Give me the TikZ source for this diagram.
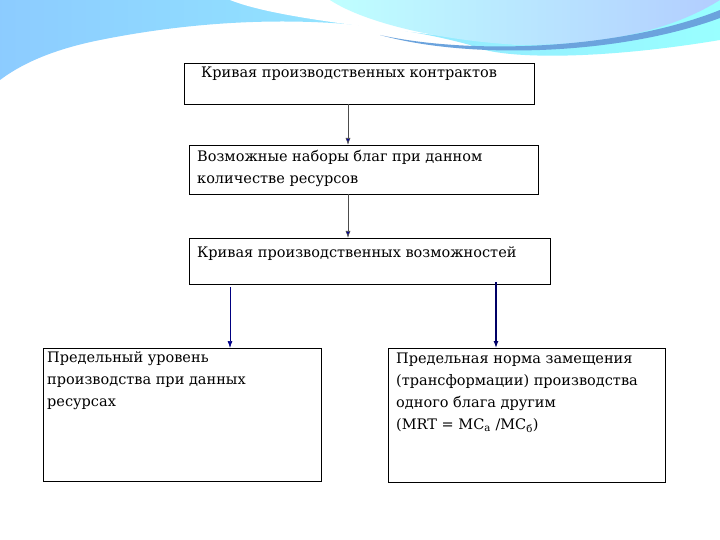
\documentclass[tikz,border=0pt]{standalone}
\usepackage{fontspec}
\setmainfont{DejaVu Serif}
\usetikzlibrary{arrows.meta}
\begin{document}
\begin{tikzpicture}[x=1pt,y=-1pt,
  box/.style={draw=black,line width=0.7pt,fill=white},
  txt/.style={anchor=north west,align=left,font=\fontsize{14.5}{22}\selectfont,inner sep=0pt},
  arr/.style={draw=black!70,line width=0.7pt,-{Latex[length=7pt,width=5pt,fill=blue!60!black]}}]
\useasboundingbox (0,0) rectangle (720,540);
\fill[white] (0,0) rectangle (720,540);
% header waves
\shade[left color=cyan!55!blue!45, right color=cyan!40] (0,0) -- (720,0) -- (720,40) .. controls (600,60) and (500,60) .. (470,45) .. controls (380,20) and (250,10) .. (100,40) .. controls (50,50) and (20,65) .. (0,80) -- cycle;
\fill[white] (230,0) .. controls (280,20) and (400,30) .. (520,45) .. controls (420,20) and (350,10) .. (330,0) -- cycle;
\shade[left color=cyan!25, right color=cyan!35!blue!30] (330,0) .. controls (360,20) and (430,40) .. (520,45) .. controls (620,45) and (680,25) .. (720,0) -- cycle;
\fill[cyan!60!blue!60] (380,35) .. controls (470,55) and (620,50) .. (720,10) -- (720,18) .. controls (620,55) and (470,60) .. (380,35) -- cycle;
% boxes
\draw[box] (184,63) rectangle (534,104);
\node[txt] (t1) at (201,67) {Кривая производственных контрактов};
\draw[box] (189,145) rectangle (538,194);
\node[txt] (t2) at (197,150) {Возможные наборы благ при данном\\количестве ресурсов};
\draw[box] (189,238) rectangle (550,284);
\node[txt] (t3) at (197,246) {Кривая производственных возможностей};
\draw[box] (43,348) rectangle (321,481);
\node[txt] (t4) at (47,351) {Предельный уровень\\производства при данных\\ресурсах};
\draw[box] (388,348) rectangle (665,482);
\node[txt] (t5) at (396,353) {Предельная норма замещения\\(трансформации) производства\\одного блага другим\\(MRT = MC\textsubscript{а} /MC\textsubscript{б})};
\coordinate (a1) at (348,104); \coordinate (b1) at (348,145);
\coordinate (a2) at (348,194); \coordinate (b2) at (348,238);
\coordinate (a3) at (230,287); \coordinate (b3) at (230,348);
\coordinate (a4) at (496,282); \coordinate (b4) at (496,348);
\draw[arr] (a1) -- (b1);
\draw[arr] (a2) -- (b2);
\draw[arr,draw=blue!50!black] (a3) -- (b3);
\draw[arr,draw=blue!40!black,line width=1.2pt] (a4) -- (b4);
\end{tikzpicture}
\end{document}
